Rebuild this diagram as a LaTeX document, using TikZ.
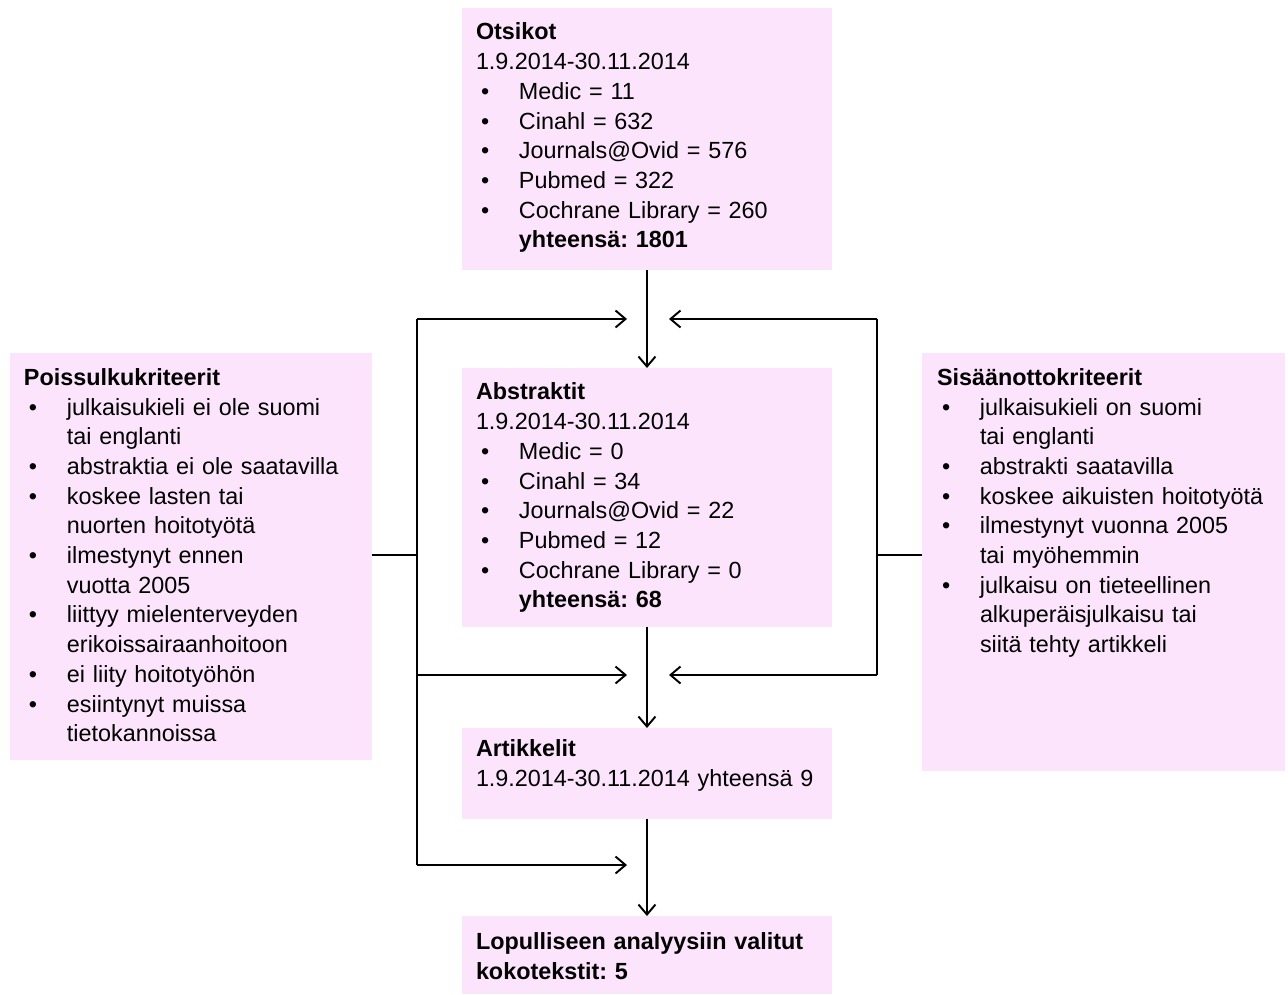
\documentclass[tikz,border=0pt]{standalone}
\usepackage{fontspec}
\setmainfont{Liberation Sans}
\usetikzlibrary{arrows.meta}
\definecolor{boxpink}{RGB}{252,228,252}
\newcommand{\bul}[1]{\hspace*{0.1cm}\makebox[0.76cm][l]{•}#1}
\newcommand{\cnt}[1]{\hspace*{0.86cm}#1}
\frenchspacing
\begin{document}
\begin{tikzpicture}[x=0.02cm,y=-0.02cm,
  box/.style={draw=none,fill=boxpink,anchor=north west,inner sep=0pt,outer sep=0pt},
  txt/.style={anchor=north west,inner sep=0pt,outer sep=0pt,align=left,text width=9cm,
    font=\frenchspacing\fontsize{13.3pt}{16.9pt}\selectfont},
  conn/.style={line width=1.1pt,black},
  arr/.style={conn,-{Straight Barb[length=0.2cm,width=0.34cm,line width=1.1pt]}}]
\useasboundingbox (0,0) rectangle (1288,994);
% boxes
\node[box,minimum width=7.4cm,minimum height=5.24cm] (ots) at (462,8) {};
\node[box,minimum width=7.4cm,minimum height=5.18cm] (abs) at (462,368) {};
\node[box,minimum width=7.4cm,minimum height=1.82cm] (art) at (462,728) {};
\node[box,minimum width=7.4cm,minimum height=1.56cm] (lop) at (462,916) {};
\node[box,minimum width=7.24cm,minimum height=8.14cm] (pois) at (10,353) {};
\node[box,minimum width=7.26cm,minimum height=8.36cm] (sis) at (922,353) {};
% texts
\node[txt] (otst) at (476,23) {\textbf{Otsikot}\\
1.9.2014-30.11.2014\\
\bul{Medic = 11}\\
\bul{Cinahl = 632}\\
\bul{Journals@Ovid = 576}\\
\bul{Pubmed = 322}\\
\bul{Cochrane Library = 260}\\
\cnt{\textbf{yhteensä: 1801}}};
\node[txt] (abst) at (476,383) {\textbf{Abstraktit}\\
1.9.2014-30.11.2014\\
\bul{Medic = 0}\\
\bul{Cinahl = 34}\\
\bul{Journals@Ovid = 22}\\
\bul{Pubmed = 12}\\
\bul{Cochrane Library = 0}\\
\cnt{\textbf{yhteensä: 68}}};
\node[txt] (artt) at (476,739.5) {\textbf{Artikkelit}\\
1.9.2014-30.11.2014 yhteensä 9};
\node[txt] (lopt) at (476,933) {\textbf{Lopulliseen analyysiin valitut}\\
\textbf{kokotekstit: 5}};
\node[txt] (poist) at (24,368.5) {\textbf{Poissulkukriteerit}\\
\bul{julkaisukieli ei ole suomi}\\
\cnt{tai englanti}\\
\bul{abstraktia ei ole saatavilla}\\
\bul{koskee lasten tai}\\
\cnt{nuorten hoitotyötä}\\
\bul{ilmestynyt ennen}\\
\cnt{vuotta 2005}\\
\bul{liittyy mielenterveyden}\\
\cnt{erikoissairaanhoitoon}\\
\bul{ei liity hoitotyöhön}\\
\bul{esiintynyt muissa}\\
\cnt{tietokannoissa}};
\node[txt] (sist) at (937,368.5) {\textbf{Sisäänottokriteerit}\\
\bul{julkaisukieli on suomi}\\
\cnt{tai englanti}\\
\bul{abstrakti saatavilla}\\
\bul{koskee aikuisten hoitotyötä}\\
\bul{ilmestynyt vuonna 2005}\\
\cnt{tai myöhemmin}\\
\bul{julkaisu on tieteellinen}\\
\cnt{alkuperäisjulkaisu tai}\\
\cnt{siitä tehty artikkeli}};
% coordinates
\coordinate (jl) at (417,555);
\coordinate (jlt) at (417,319);
\coordinate (jlm) at (417,675);
\coordinate (jlb) at (417,865);
\coordinate (tlt) at (627,319);
\coordinate (tlm) at (627,675);
\coordinate (tlb) at (627,865);
\coordinate (jr) at (877,555);
\coordinate (jrt) at (877,319);
\coordinate (jrm) at (877,675);
\coordinate (trt) at (669,319);
\coordinate (trm) at (669,675);
% main flow
\draw[arr] (ots.south) -- (abs.north);
\draw[arr] (abs.south) -- (art.north);
\draw[arr] (art.south) -- (lop.north);
% left
\draw[conn] (pois.east |- jl) -- (jl);
\draw[conn] (jlt) -- (jlb);
\draw[arr] (jlt) -- (tlt);
\draw[arr] (jlm) -- (tlm);
\draw[arr] (jlb) -- (tlb);
% right
\draw[conn] (sis.west |- jr) -- (jr);
\draw[conn] (jrt) -- (jrm);
\draw[arr] (jrt) -- (trt);
\draw[arr] (jrm) -- (trm);
\end{tikzpicture}
\end{document}
